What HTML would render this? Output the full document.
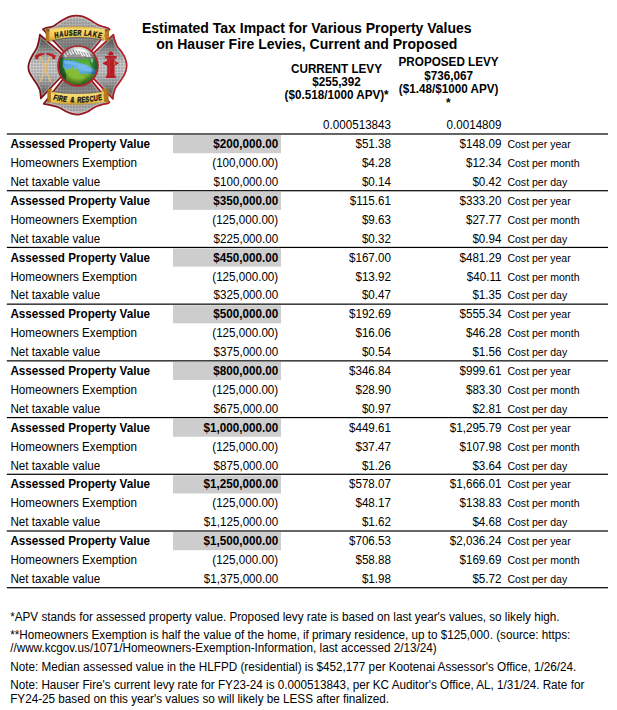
<!DOCTYPE html>
<html><head><meta charset="utf-8"><style>
html,body{margin:0;padding:0;background:#fff}
#c{position:relative;width:617px;height:710px;overflow:hidden;background:#fff;font-family:"Liberation Sans",sans-serif;color:#000}
.t{position:absolute;white-space:nowrap;font-size:11.63px;line-height:14px;transform-origin:0 11px;transform:scaleY(1.1)}
.b{font-weight:bold;font-size:11.7px}
.ti{font-weight:bold;font-size:14px;line-height:16px;transform:none}
.c{font-size:10.55px;transform-origin:0 10px}
.n{font-size:11.71px}
.ov{position:absolute;left:0;top:0}
</style></head><body><div id="c">
<svg class="ov" width="617" height="710" viewBox="0 0 617 710"><rect x="173" y="135.10" width="108" height="18.1" fill="#cdcdcd"/><rect x="173" y="191.81" width="108" height="18.1" fill="#cdcdcd"/><rect x="173" y="248.53" width="108" height="18.1" fill="#cdcdcd"/><rect x="173" y="305.24" width="108" height="18.1" fill="#cdcdcd"/><rect x="173" y="361.96" width="108" height="18.1" fill="#cdcdcd"/><rect x="173" y="418.67" width="108" height="18.1" fill="#cdcdcd"/><rect x="173" y="475.38" width="108" height="18.1" fill="#cdcdcd"/><rect x="173" y="532.10" width="108" height="18.1" fill="#cdcdcd"/><rect x="6.8" y="133.40" width="601.2" height="1.2" fill="#000"/><rect x="6.8" y="190.11" width="601.2" height="1.2" fill="#000"/><rect x="6.8" y="246.83" width="601.2" height="1.2" fill="#000"/><rect x="6.8" y="303.54" width="601.2" height="1.2" fill="#000"/><rect x="6.8" y="360.26" width="601.2" height="1.2" fill="#000"/><rect x="6.8" y="416.97" width="601.2" height="1.2" fill="#000"/><rect x="6.8" y="473.68" width="601.2" height="1.2" fill="#000"/><rect x="6.8" y="530.40" width="601.2" height="1.2" fill="#000"/><rect x="6.8" y="587.11" width="601.2" height="1.2" fill="#000"/></svg>
<svg class="ov" width="140" height="130" viewBox="0 0 140 130"><defs>
<linearGradient id="mgt" x1="0" y1="14" x2="0" y2="50" gradientUnits="userSpaceOnUse">
<stop offset="0" stop-color="#c4c4c4"/><stop offset="0.35" stop-color="#b2b2b2"/><stop offset="0.75" stop-color="#8e8e8e"/><stop offset="1" stop-color="#7e7e7e"/>
</linearGradient>
<linearGradient id="mgb" x1="0" y1="116" x2="0" y2="82" gradientUnits="userSpaceOnUse">
<stop offset="0" stop-color="#c4c4c4"/><stop offset="0.35" stop-color="#b0b0b0"/><stop offset="0.75" stop-color="#8e8e8e"/><stop offset="1" stop-color="#7e7e7e"/>
</linearGradient>
<linearGradient id="mgl" x1="0" y1="34" x2="0" y2="99" gradientUnits="userSpaceOnUse">
<stop offset="0" stop-color="#4a4a4a"/><stop offset="0.13" stop-color="#686868"/><stop offset="0.28" stop-color="#a4a4a4"/><stop offset="0.45" stop-color="#d2d2d2"/><stop offset="0.58" stop-color="#d0d0d0"/><stop offset="0.74" stop-color="#a8a8a8"/><stop offset="0.88" stop-color="#707070"/><stop offset="1" stop-color="#505050"/>
</linearGradient>
<linearGradient id="mgr" x1="0" y1="34" x2="0" y2="99" gradientUnits="userSpaceOnUse">
<stop offset="0" stop-color="#4a4a4a"/><stop offset="0.13" stop-color="#686868"/><stop offset="0.28" stop-color="#a4a4a4"/><stop offset="0.45" stop-color="#cecece"/><stop offset="0.58" stop-color="#cccccc"/><stop offset="0.74" stop-color="#a8a8a8"/><stop offset="0.88" stop-color="#707070"/><stop offset="1" stop-color="#505050"/>
</linearGradient>
<linearGradient id="rs" x1="27" y1="0" x2="128" y2="0" gradientUnits="userSpaceOnUse">
<stop offset="0" stop-color="#701014"/><stop offset="0.5" stop-color="#9c1820"/><stop offset="1" stop-color="#b81e28"/>
</linearGradient>
<pattern id="dp" x="0.5" y="0.5" width="3" height="3" patternUnits="userSpaceOnUse">
<circle cx="1.5" cy="1.5" r="0.85" fill="#404040"/>
</pattern>
<linearGradient id="gold" x1="0" y1="0" x2="0" y2="1">
<stop offset="0" stop-color="#d0a038"/><stop offset="0.2" stop-color="#f8dc70"/><stop offset="0.7" stop-color="#efc852"/><stop offset="1" stop-color="#c0902a"/>
</linearGradient>
<linearGradient id="fold" x1="0" y1="0" x2="1" y2="0">
<stop offset="0" stop-color="#a86c18"/><stop offset="1" stop-color="#c88a2c"/>
</linearGradient>
<linearGradient id="foldr" x1="1" y1="0" x2="0" y2="0">
<stop offset="0" stop-color="#a86c18"/><stop offset="1" stop-color="#c88a2c"/>
</linearGradient>
<linearGradient id="sky" x1="0" y1="0" x2="0" y2="1">
<stop offset="0" stop-color="#dfe8ee"/><stop offset="0.5" stop-color="#ffffff"/><stop offset="1" stop-color="#e4eaee"/>
</linearGradient>
<linearGradient id="grass" x1="0" y1="0" x2="0" y2="1">
<stop offset="0" stop-color="#2e9a3c"/><stop offset="0.35" stop-color="#4aa838"/><stop offset="0.6" stop-color="#80be3a"/><stop offset="1" stop-color="#4a9a2c"/>
</linearGradient>
<linearGradient id="lake" x1="0" y1="0" x2="1" y2="1">
<stop offset="0" stop-color="#3a8ed8"/><stop offset="0.5" stop-color="#6cb6ea"/><stop offset="1" stop-color="#3a90d0"/>
</linearGradient>
<radialGradient id="sky2" cx="80" cy="50" r="16" gradientUnits="userSpaceOnUse"><stop offset="0.3" stop-color="#ffffff"/><stop offset="1" stop-color="#bcd4e2"/></radialGradient>
<radialGradient id="vig" cx="77.95" cy="63.95" r="21" gradientUnits="userSpaceOnUse">
<stop offset="0.68" stop-color="#000" stop-opacity="0"/><stop offset="1" stop-color="#0a3010" stop-opacity="0.6"/>
</radialGradient>
<clipPath id="gc"><circle cx="77.95" cy="65.95" r="19.3"/></clipPath>
<path id="arcT" d="M50,38.7 Q77.5,32 105,38.7"/>
<path id="arcB" d="M51,100.1 Q77.5,105 104,100"/>
</defs><clipPath id="ca0"><path d="M77.95,65.95 L63.20,51.07 L42.88,29.22 C43.44,28.98 44.87,28.15 46.23,27.76 C47.60,27.38 49.74,27.26 51.07,26.91 C52.40,26.55 53.30,26.13 54.22,25.64 C55.13,25.15 55.79,24.51 56.57,23.96 C57.36,23.42 57.68,23.18 58.93,22.39 C60.17,21.59 62.11,20.23 64.03,19.22 C65.94,18.21 68.38,16.94 70.41,16.34 C72.44,15.75 74.21,15.65 76.21,15.65 C78.21,15.65 80.31,15.75 82.41,16.35 C84.50,16.94 86.88,18.22 88.79,19.22 C90.71,20.23 92.31,21.44 93.89,22.39 C95.48,23.35 96.83,24.27 98.31,24.95 C99.78,25.64 101.24,26.04 102.74,26.51 C104.23,26.98 106.12,27.31 107.27,27.77 C108.42,28.22 109.24,28.99 109.64,29.24 L92.06,50.42 Z"/></clipPath><path d="M77.95,65.95 L63.20,51.07 L42.88,29.22 C43.44,28.98 44.87,28.15 46.23,27.76 C47.60,27.38 49.74,27.26 51.07,26.91 C52.40,26.55 53.30,26.13 54.22,25.64 C55.13,25.15 55.79,24.51 56.57,23.96 C57.36,23.42 57.68,23.18 58.93,22.39 C60.17,21.59 62.11,20.23 64.03,19.22 C65.94,18.21 68.38,16.94 70.41,16.34 C72.44,15.75 74.21,15.65 76.21,15.65 C78.21,15.65 80.31,15.75 82.41,16.35 C84.50,16.94 86.88,18.22 88.79,19.22 C90.71,20.23 92.31,21.44 93.89,22.39 C95.48,23.35 96.83,24.27 98.31,24.95 C99.78,25.64 101.24,26.04 102.74,26.51 C104.23,26.98 106.12,27.31 107.27,27.77 C108.42,28.22 109.24,28.99 109.64,29.24 L92.06,50.42 Z" fill="url(#mgt)"/><path d="M77.95,65.95 L63.20,51.07 L42.88,29.22 C43.44,28.98 44.87,28.15 46.23,27.76 C47.60,27.38 49.74,27.26 51.07,26.91 C52.40,26.55 53.30,26.13 54.22,25.64 C55.13,25.15 55.79,24.51 56.57,23.96 C57.36,23.42 57.68,23.18 58.93,22.39 C60.17,21.59 62.11,20.23 64.03,19.22 C65.94,18.21 68.38,16.94 70.41,16.34 C72.44,15.75 74.21,15.65 76.21,15.65 C78.21,15.65 80.31,15.75 82.41,16.35 C84.50,16.94 86.88,18.22 88.79,19.22 C90.71,20.23 92.31,21.44 93.89,22.39 C95.48,23.35 96.83,24.27 98.31,24.95 C99.78,25.64 101.24,26.04 102.74,26.51 C104.23,26.98 106.12,27.31 107.27,27.77 C108.42,28.22 109.24,28.99 109.64,29.24 L92.06,50.42 Z" fill="url(#dp)" opacity="0.65"/><path d="M77.95,65.95 L63.20,51.07 L42.88,29.22 C43.44,28.98 44.87,28.15 46.23,27.76 C47.60,27.38 49.74,27.26 51.07,26.91 C52.40,26.55 53.30,26.13 54.22,25.64 C55.13,25.15 55.79,24.51 56.57,23.96 C57.36,23.42 57.68,23.18 58.93,22.39 C60.17,21.59 62.11,20.23 64.03,19.22 C65.94,18.21 68.38,16.94 70.41,16.34 C72.44,15.75 74.21,15.65 76.21,15.65 C78.21,15.65 80.31,15.75 82.41,16.35 C84.50,16.94 86.88,18.22 88.79,19.22 C90.71,20.23 92.31,21.44 93.89,22.39 C95.48,23.35 96.83,24.27 98.31,24.95 C99.78,25.64 101.24,26.04 102.74,26.51 C104.23,26.98 106.12,27.31 107.27,27.77 C108.42,28.22 109.24,28.99 109.64,29.24 L92.06,50.42 Z" fill="none" stroke="#fff" stroke-width="4.2" opacity="0.28" clip-path="url(#ca0)"/><path d="M77.95,65.95 L63.20,51.07 L42.88,29.22 C43.44,28.98 44.87,28.15 46.23,27.76 C47.60,27.38 49.74,27.26 51.07,26.91 C52.40,26.55 53.30,26.13 54.22,25.64 C55.13,25.15 55.79,24.51 56.57,23.96 C57.36,23.42 57.68,23.18 58.93,22.39 C60.17,21.59 62.11,20.23 64.03,19.22 C65.94,18.21 68.38,16.94 70.41,16.34 C72.44,15.75 74.21,15.65 76.21,15.65 C78.21,15.65 80.31,15.75 82.41,16.35 C84.50,16.94 86.88,18.22 88.79,19.22 C90.71,20.23 92.31,21.44 93.89,22.39 C95.48,23.35 96.83,24.27 98.31,24.95 C99.78,25.64 101.24,26.04 102.74,26.51 C104.23,26.98 106.12,27.31 107.27,27.77 C108.42,28.22 109.24,28.99 109.64,29.24 L92.06,50.42 Z" fill="none" stroke="url(#rs)" stroke-width="1.7" stroke-linejoin="round"/><clipPath id="ca1"><path d="M77.95,65.95 L62.49,79.73 L43.76,103.86 C44.83,104.07 48.04,104.64 50.18,105.10 C52.32,105.56 54.66,106.01 56.58,106.64 C58.50,107.27 60.10,108.09 61.69,108.90 C63.27,109.70 64.61,110.73 66.10,111.47 C67.59,112.22 69.12,112.88 70.61,113.36 C72.10,113.84 73.81,114.14 75.03,114.35 C76.26,114.57 76.75,114.77 77.98,114.65 C79.21,114.53 80.82,114.14 82.40,113.66 C83.99,113.18 85.81,112.63 87.51,111.77 C89.21,110.91 90.92,109.46 92.61,108.50 C94.29,107.55 95.92,106.73 97.61,106.04 C99.30,105.36 101.02,104.81 102.73,104.39 C104.44,103.98 106.74,103.90 107.86,103.54 C108.98,103.19 109.17,102.48 109.43,102.27 L92.13,81.35 Z"/></clipPath><path d="M77.95,65.95 L62.49,79.73 L43.76,103.86 C44.83,104.07 48.04,104.64 50.18,105.10 C52.32,105.56 54.66,106.01 56.58,106.64 C58.50,107.27 60.10,108.09 61.69,108.90 C63.27,109.70 64.61,110.73 66.10,111.47 C67.59,112.22 69.12,112.88 70.61,113.36 C72.10,113.84 73.81,114.14 75.03,114.35 C76.26,114.57 76.75,114.77 77.98,114.65 C79.21,114.53 80.82,114.14 82.40,113.66 C83.99,113.18 85.81,112.63 87.51,111.77 C89.21,110.91 90.92,109.46 92.61,108.50 C94.29,107.55 95.92,106.73 97.61,106.04 C99.30,105.36 101.02,104.81 102.73,104.39 C104.44,103.98 106.74,103.90 107.86,103.54 C108.98,103.19 109.17,102.48 109.43,102.27 L92.13,81.35 Z" fill="url(#mgb)"/><path d="M77.95,65.95 L62.49,79.73 L43.76,103.86 C44.83,104.07 48.04,104.64 50.18,105.10 C52.32,105.56 54.66,106.01 56.58,106.64 C58.50,107.27 60.10,108.09 61.69,108.90 C63.27,109.70 64.61,110.73 66.10,111.47 C67.59,112.22 69.12,112.88 70.61,113.36 C72.10,113.84 73.81,114.14 75.03,114.35 C76.26,114.57 76.75,114.77 77.98,114.65 C79.21,114.53 80.82,114.14 82.40,113.66 C83.99,113.18 85.81,112.63 87.51,111.77 C89.21,110.91 90.92,109.46 92.61,108.50 C94.29,107.55 95.92,106.73 97.61,106.04 C99.30,105.36 101.02,104.81 102.73,104.39 C104.44,103.98 106.74,103.90 107.86,103.54 C108.98,103.19 109.17,102.48 109.43,102.27 L92.13,81.35 Z" fill="url(#dp)" opacity="0.65"/><path d="M77.95,65.95 L62.49,79.73 L43.76,103.86 C44.83,104.07 48.04,104.64 50.18,105.10 C52.32,105.56 54.66,106.01 56.58,106.64 C58.50,107.27 60.10,108.09 61.69,108.90 C63.27,109.70 64.61,110.73 66.10,111.47 C67.59,112.22 69.12,112.88 70.61,113.36 C72.10,113.84 73.81,114.14 75.03,114.35 C76.26,114.57 76.75,114.77 77.98,114.65 C79.21,114.53 80.82,114.14 82.40,113.66 C83.99,113.18 85.81,112.63 87.51,111.77 C89.21,110.91 90.92,109.46 92.61,108.50 C94.29,107.55 95.92,106.73 97.61,106.04 C99.30,105.36 101.02,104.81 102.73,104.39 C104.44,103.98 106.74,103.90 107.86,103.54 C108.98,103.19 109.17,102.48 109.43,102.27 L92.13,81.35 Z" fill="none" stroke="#fff" stroke-width="4.2" opacity="0.28" clip-path="url(#ca1)"/><path d="M77.95,65.95 L62.49,79.73 L43.76,103.86 C44.83,104.07 48.04,104.64 50.18,105.10 C52.32,105.56 54.66,106.01 56.58,106.64 C58.50,107.27 60.10,108.09 61.69,108.90 C63.27,109.70 64.61,110.73 66.10,111.47 C67.59,112.22 69.12,112.88 70.61,113.36 C72.10,113.84 73.81,114.14 75.03,114.35 C76.26,114.57 76.75,114.77 77.98,114.65 C79.21,114.53 80.82,114.14 82.40,113.66 C83.99,113.18 85.81,112.63 87.51,111.77 C89.21,110.91 90.92,109.46 92.61,108.50 C94.29,107.55 95.92,106.73 97.61,106.04 C99.30,105.36 101.02,104.81 102.73,104.39 C104.44,103.98 106.74,103.90 107.86,103.54 C108.98,103.19 109.17,102.48 109.43,102.27 L92.13,81.35 Z" fill="none" stroke="url(#rs)" stroke-width="1.7" stroke-linejoin="round"/><clipPath id="ca2"><path d="M77.95,65.95 L61.10,53.23 L39.85,34.65 C39.69,35.64 39.39,38.42 38.91,40.57 C38.43,42.72 37.97,45.23 36.97,47.56 C35.97,49.88 34.09,52.36 32.92,54.51 C31.75,56.67 30.71,58.50 29.94,60.50 C29.18,62.49 28.43,64.51 28.35,66.49 C28.27,68.47 28.68,70.41 29.44,72.39 C30.20,74.37 31.66,76.38 32.92,78.37 C34.17,80.36 35.81,82.35 36.97,84.35 C38.14,86.34 39.27,88.00 39.91,90.33 C40.55,92.66 40.68,97.00 40.83,98.33 L60.21,77.77 Z"/></clipPath><path d="M77.95,65.95 L61.10,53.23 L39.85,34.65 C39.69,35.64 39.39,38.42 38.91,40.57 C38.43,42.72 37.97,45.23 36.97,47.56 C35.97,49.88 34.09,52.36 32.92,54.51 C31.75,56.67 30.71,58.50 29.94,60.50 C29.18,62.49 28.43,64.51 28.35,66.49 C28.27,68.47 28.68,70.41 29.44,72.39 C30.20,74.37 31.66,76.38 32.92,78.37 C34.17,80.36 35.81,82.35 36.97,84.35 C38.14,86.34 39.27,88.00 39.91,90.33 C40.55,92.66 40.68,97.00 40.83,98.33 L60.21,77.77 Z" fill="url(#mgl)"/><path d="M77.95,65.95 L61.10,53.23 L39.85,34.65 C39.69,35.64 39.39,38.42 38.91,40.57 C38.43,42.72 37.97,45.23 36.97,47.56 C35.97,49.88 34.09,52.36 32.92,54.51 C31.75,56.67 30.71,58.50 29.94,60.50 C29.18,62.49 28.43,64.51 28.35,66.49 C28.27,68.47 28.68,70.41 29.44,72.39 C30.20,74.37 31.66,76.38 32.92,78.37 C34.17,80.36 35.81,82.35 36.97,84.35 C38.14,86.34 39.27,88.00 39.91,90.33 C40.55,92.66 40.68,97.00 40.83,98.33 L60.21,77.77 Z" fill="url(#dp)" opacity="0.65"/><path d="M77.95,65.95 L61.10,53.23 L39.85,34.65 C39.69,35.64 39.39,38.42 38.91,40.57 C38.43,42.72 37.97,45.23 36.97,47.56 C35.97,49.88 34.09,52.36 32.92,54.51 C31.75,56.67 30.71,58.50 29.94,60.50 C29.18,62.49 28.43,64.51 28.35,66.49 C28.27,68.47 28.68,70.41 29.44,72.39 C30.20,74.37 31.66,76.38 32.92,78.37 C34.17,80.36 35.81,82.35 36.97,84.35 C38.14,86.34 39.27,88.00 39.91,90.33 C40.55,92.66 40.68,97.00 40.83,98.33 L60.21,77.77 Z" fill="none" stroke="#fff" stroke-width="4.2" opacity="0.28" clip-path="url(#ca2)"/><path d="M77.95,65.95 L61.10,53.23 L39.85,34.65 C39.69,35.64 39.39,38.42 38.91,40.57 C38.43,42.72 37.97,45.23 36.97,47.56 C35.97,49.88 34.09,52.36 32.92,54.51 C31.75,56.67 30.71,58.50 29.94,60.50 C29.18,62.49 28.43,64.51 28.35,66.49 C28.27,68.47 28.68,70.41 29.44,72.39 C30.20,74.37 31.66,76.38 32.92,78.37 C34.17,80.36 35.81,82.35 36.97,84.35 C38.14,86.34 39.27,88.00 39.91,90.33 C40.55,92.66 40.68,97.00 40.83,98.33 L60.21,77.77 Z" fill="none" stroke="url(#rs)" stroke-width="1.7" stroke-linejoin="round"/><clipPath id="ca3"><path d="M77.95,65.95 L94.24,52.48 L113.46,34.65 C113.70,35.64 114.23,38.59 114.89,40.57 C115.56,42.56 116.35,44.74 117.43,46.57 C118.52,48.40 120.15,49.75 121.39,51.56 C122.63,53.38 123.99,55.31 124.86,57.45 C125.74,59.59 126.47,62.26 126.65,64.43 C126.83,66.59 126.50,68.43 125.95,70.42 C125.41,72.42 124.46,74.42 123.37,76.41 C122.28,78.41 120.74,80.42 119.41,82.39 C118.07,84.37 116.36,86.29 115.36,88.27 C114.37,90.25 113.83,92.52 113.43,94.28 C113.03,96.04 113.05,98.07 112.97,98.83 L94.37,79.35 Z"/></clipPath><path d="M77.95,65.95 L94.24,52.48 L113.46,34.65 C113.70,35.64 114.23,38.59 114.89,40.57 C115.56,42.56 116.35,44.74 117.43,46.57 C118.52,48.40 120.15,49.75 121.39,51.56 C122.63,53.38 123.99,55.31 124.86,57.45 C125.74,59.59 126.47,62.26 126.65,64.43 C126.83,66.59 126.50,68.43 125.95,70.42 C125.41,72.42 124.46,74.42 123.37,76.41 C122.28,78.41 120.74,80.42 119.41,82.39 C118.07,84.37 116.36,86.29 115.36,88.27 C114.37,90.25 113.83,92.52 113.43,94.28 C113.03,96.04 113.05,98.07 112.97,98.83 L94.37,79.35 Z" fill="url(#mgr)"/><path d="M77.95,65.95 L94.24,52.48 L113.46,34.65 C113.70,35.64 114.23,38.59 114.89,40.57 C115.56,42.56 116.35,44.74 117.43,46.57 C118.52,48.40 120.15,49.75 121.39,51.56 C122.63,53.38 123.99,55.31 124.86,57.45 C125.74,59.59 126.47,62.26 126.65,64.43 C126.83,66.59 126.50,68.43 125.95,70.42 C125.41,72.42 124.46,74.42 123.37,76.41 C122.28,78.41 120.74,80.42 119.41,82.39 C118.07,84.37 116.36,86.29 115.36,88.27 C114.37,90.25 113.83,92.52 113.43,94.28 C113.03,96.04 113.05,98.07 112.97,98.83 L94.37,79.35 Z" fill="url(#dp)" opacity="0.65"/><path d="M77.95,65.95 L94.24,52.48 L113.46,34.65 C113.70,35.64 114.23,38.59 114.89,40.57 C115.56,42.56 116.35,44.74 117.43,46.57 C118.52,48.40 120.15,49.75 121.39,51.56 C122.63,53.38 123.99,55.31 124.86,57.45 C125.74,59.59 126.47,62.26 126.65,64.43 C126.83,66.59 126.50,68.43 125.95,70.42 C125.41,72.42 124.46,74.42 123.37,76.41 C122.28,78.41 120.74,80.42 119.41,82.39 C118.07,84.37 116.36,86.29 115.36,88.27 C114.37,90.25 113.83,92.52 113.43,94.28 C113.03,96.04 113.05,98.07 112.97,98.83 L94.37,79.35 Z" fill="none" stroke="#fff" stroke-width="4.2" opacity="0.28" clip-path="url(#ca3)"/><path d="M77.95,65.95 L94.24,52.48 L113.46,34.65 C113.70,35.64 114.23,38.59 114.89,40.57 C115.56,42.56 116.35,44.74 117.43,46.57 C118.52,48.40 120.15,49.75 121.39,51.56 C122.63,53.38 123.99,55.31 124.86,57.45 C125.74,59.59 126.47,62.26 126.65,64.43 C126.83,66.59 126.50,68.43 125.95,70.42 C125.41,72.42 124.46,74.42 123.37,76.41 C122.28,78.41 120.74,80.42 119.41,82.39 C118.07,84.37 116.36,86.29 115.36,88.27 C114.37,90.25 113.83,92.52 113.43,94.28 C113.03,96.04 113.05,98.07 112.97,98.83 L94.37,79.35 Z" fill="none" stroke="url(#rs)" stroke-width="1.7" stroke-linejoin="round"/><path d="M45.6,29.2 L50,29 L50,41 L45.8,41.6 Z" fill="url(#fold)"/><path d="M45.6,29.2 L50,29 L50,32 Z" fill="#4a4030" opacity="0.7"/><path d="M109,29.4 L104.6,29.2 L104.4,40.2 L108.8,41.6 Z" fill="url(#foldr)"/><path d="M109,29.4 L104.6,29.2 L104.6,32 Z" fill="#4a4030" opacity="0.7"/><path d="M49.5,29 Q77,23.3 105,29.2 L104.2,40 Q77,33.8 49.5,40.9 Z" fill="url(#gold)"/><path d="M49.5,40.9 Q77,33.8 104.2,40 L104.2,41 Q77,34.8 49.5,41.9 Z" fill="#3a3a3a" opacity="0.45"/><text x="0" y="0" text-anchor="middle" transform="translate(56.70,37.69) rotate(-12.38) skewX(-6) scale(0.72,1)" font-family="Liberation Sans" font-weight="bold" font-size="7.9" fill="#141414" stroke="#141414" stroke-width="0.35">H</text><text x="0" y="0" text-anchor="middle" transform="translate(61.60,36.74) rotate(-9.54) skewX(-6) scale(0.72,1)" font-family="Liberation Sans" font-weight="bold" font-size="7.9" fill="#141414" stroke="#141414" stroke-width="0.35">A</text><text x="0" y="0" text-anchor="middle" transform="translate(66.35,36.06) rotate(-6.74) skewX(-6) scale(0.72,1)" font-family="Liberation Sans" font-weight="bold" font-size="7.9" fill="#141414" stroke="#141414" stroke-width="0.35">U</text><text x="0" y="0" text-anchor="middle" transform="translate(70.75,35.65) rotate(-4.11) skewX(-6) scale(0.72,1)" font-family="Liberation Sans" font-weight="bold" font-size="7.9" fill="#141414" stroke="#141414" stroke-width="0.35">S</text><text x="0" y="0" text-anchor="middle" transform="translate(74.85,35.44) rotate(-1.65) skewX(-6) scale(0.72,1)" font-family="Liberation Sans" font-weight="bold" font-size="7.9" fill="#141414" stroke="#141414" stroke-width="0.35">E</text><text x="0" y="0" text-anchor="middle" transform="translate(79.00,35.41) rotate(0.84) skewX(-6) scale(0.72,1)" font-family="Liberation Sans" font-weight="bold" font-size="7.9" fill="#141414" stroke="#141414" stroke-width="0.35">R</text><text x="0" y="0" text-anchor="middle" transform="translate(85.40,35.72) rotate(4.68) skewX(-6) scale(0.72,1)" font-family="Liberation Sans" font-weight="bold" font-size="7.9" fill="#141414" stroke="#141414" stroke-width="0.35">L</text><text x="0" y="0" text-anchor="middle" transform="translate(89.35,36.12) rotate(7.03) skewX(-6) scale(0.72,1)" font-family="Liberation Sans" font-weight="bold" font-size="7.9" fill="#141414" stroke="#141414" stroke-width="0.35">A</text><text x="0" y="0" text-anchor="middle" transform="translate(94.35,36.87) rotate(9.97) skewX(-6) scale(0.72,1)" font-family="Liberation Sans" font-weight="bold" font-size="7.9" fill="#141414" stroke="#141414" stroke-width="0.35">K</text><text x="0" y="0" text-anchor="middle" transform="translate(99.05,37.82) rotate(12.69) skewX(-6) scale(0.72,1)" font-family="Liberation Sans" font-weight="bold" font-size="7.9" fill="#141414" stroke="#141414" stroke-width="0.35">E</text><path d="M47.4,89 L52.6,88.4 L51,91.6 L51,102.3 L47.4,103 Z" fill="url(#fold)"/><path d="M108.6,89 L100.6,88.4 L103.4,91.6 L104,102 L108.6,103 Z" fill="url(#foldr)"/><path d="M51,91.5 Q77,96.5 103.4,91.5 L104,102 Q77,107.45 51,102.3 Z" fill="url(#gold)"/><path d="M51,91.5 Q77,96.5 103.4,91.5 L103.4,90.6 Q77,95.6 51,90.6 Z" fill="#3a3a3a" opacity="0.35"/><text x="0" y="0" text-anchor="middle" transform="translate(54.45,100.07) rotate(12.02) skewX(-6) scale(0.72,1)" font-family="Liberation Sans" font-weight="bold" font-size="7.9" fill="#141414" stroke="#141414" stroke-width="0.35">F</text><text x="0" y="0" text-anchor="middle" transform="translate(57.25,100.63) rotate(10.58) skewX(-6) scale(0.72,1)" font-family="Liberation Sans" font-weight="bold" font-size="7.9" fill="#141414" stroke="#141414" stroke-width="0.35">I</text><text x="0" y="0" text-anchor="middle" transform="translate(60.25,101.15) rotate(9.03) skewX(-6) scale(0.72,1)" font-family="Liberation Sans" font-weight="bold" font-size="7.9" fill="#141414" stroke="#141414" stroke-width="0.35">R</text><text x="0" y="0" text-anchor="middle" transform="translate(64.35,101.72) rotate(6.88) skewX(-6) scale(0.72,1)" font-family="Liberation Sans" font-weight="bold" font-size="7.9" fill="#141414" stroke="#141414" stroke-width="0.35">E</text><text x="0" y="0" text-anchor="middle" transform="translate(72.10,102.37) rotate(2.77) skewX(-6) scale(0.72,1)" font-family="Liberation Sans" font-weight="bold" font-size="7.9" fill="#141414" stroke="#141414" stroke-width="0.35">&amp;</text><text x="0" y="0" text-anchor="middle" transform="translate(79.00,102.49) rotate(-0.91) skewX(-6) scale(0.72,1)" font-family="Liberation Sans" font-weight="bold" font-size="7.9" fill="#141414" stroke="#141414" stroke-width="0.35">R</text><text x="0" y="0" text-anchor="middle" transform="translate(83.15,102.34) rotate(-3.12) skewX(-6) scale(0.72,1)" font-family="Liberation Sans" font-weight="bold" font-size="7.9" fill="#141414" stroke="#141414" stroke-width="0.35">E</text><text x="0" y="0" text-anchor="middle" transform="translate(87.25,102.04) rotate(-5.30) skewX(-6) scale(0.72,1)" font-family="Liberation Sans" font-weight="bold" font-size="7.9" fill="#141414" stroke="#141414" stroke-width="0.35">S</text><text x="0" y="0" text-anchor="middle" transform="translate(91.70,101.53) rotate(-7.64) skewX(-6) scale(0.72,1)" font-family="Liberation Sans" font-weight="bold" font-size="7.9" fill="#141414" stroke="#141414" stroke-width="0.35">C</text><text x="0" y="0" text-anchor="middle" transform="translate(96.10,100.85) rotate(-9.94) skewX(-6) scale(0.72,1)" font-family="Liberation Sans" font-weight="bold" font-size="7.9" fill="#141414" stroke="#141414" stroke-width="0.35">U</text><text x="0" y="0" text-anchor="middle" transform="translate(100.25,100.05) rotate(-12.07) skewX(-6) scale(0.72,1)" font-family="Liberation Sans" font-weight="bold" font-size="7.9" fill="#141414" stroke="#141414" stroke-width="0.35">E</text><g clip-path="url(#gc)"><rect x="56" y="44" width="44" height="44" fill="url(#grass)"/><rect x="56" y="44" width="44" height="12" fill="url(#sky2)"/><path d="M56,58.6 L56,55 L60,53.6 L63,52.2 L66,50.8 L68.5,49.8 L71,50.6 L73.5,49.4 L76,50.4 L79,51.2 L82,52 L85,52.6 L88,53.2 L91,54 L95,55 L100,55.6 L100,58.6 Z" fill="#979797"/><g stroke="#fbfbfb" stroke-width="1.15" stroke-linecap="round" fill="none"><line x1="63.5" y1="52.57" x2="65.78" y2="56.37"/><line x1="66.2" y1="51.32" x2="67.88" y2="54.12"/><line x1="69" y1="50.56" x2="71.28" y2="54.36"/><line x1="71.8" y1="50.82" x2="73.48" y2="53.62"/><line x1="74.6" y1="50.44" x2="76.88" y2="54.24"/><line x1="77.4" y1="51.37" x2="79.08" y2="54.17"/><line x1="80.2" y1="52.12" x2="82.48" y2="55.92"/><line x1="83" y1="52.80" x2="84.68" y2="55.60"/><line x1="85.8" y1="53.36" x2="88.08" y2="57.16"/><line x1="88.6" y1="53.96" x2="90.28" y2="56.76"/></g><rect x="56" y="57" width="44" height="1.6" fill="#7e7e7e"/><path d="M89,58.6 L100,58.6 L100,74 L95,72.6 L92,70 L90,64 Z" fill="#2f8a3a"/><path d="M90.5,58.6 L93.5,58.6 L92.8,62.5 L91.2,62.5 Z" fill="#d8e4dc" opacity="0.6"/><path d="M56,52.5 L59.5,52.8 L62,55.5 L63.6,59.5 L63.4,65.5 L64.6,70 L66.4,75 L65,81 L60,86 L56,86 Z" fill="#2a6a2c"/><path d="M62.6,59.8 L74,60.4 L80,63 L87,65 L94,69 L98.5,71.5 L98.5,73.6 L92,74.2 L86,73.2 L81,74.2 L79,73 L77.4,67.6 L75,70.6 L72.5,66.4 L70,69.8 L66.8,69.6 L63,67.6 Z" fill="url(#lake)"/><path d="M64,60.6 L73,61.2 L79,63.8 L86,66 L92,69.6 L92,71.8 L87,71.4 L82,70.6 L79.5,68.8 L76.5,65.6 L72.6,64.6 L68,64.4 L64.4,63.4 Z" fill="#78bcec" opacity="0.8"/><path d="M66,80 L70,69.8 L72.5,66.4 L75,70.6 L77.4,67.6 L79,73 L81,74.2 L86,78 L80,84 L70,84 Z" fill="#84bc34"/><rect x="56" y="44" width="44" height="44" fill="url(#vig)"/></g><circle cx="77.95" cy="65.95" r="19.95" fill="none" stroke="#b3202a" stroke-width="1.7"/><line x1="40.2" y1="56.8" x2="50.4" y2="81.2" stroke="#e6bc6c" stroke-width="1.5" stroke-linecap="round"/><line x1="50" y1="56.8" x2="40.4" y2="81.2" stroke="#e6bc6c" stroke-width="1.5" stroke-linecap="round"/><path d="M35,55.4 Q38,53.1 44.4,53 L44.4,54.4 Q40.8,55.1 38.5,56.7 L38,59 L35.4,59 Z" fill="#c01c26"/><path d="M55.6,55.4 Q52.6,53.1 46.2,53 L46.2,54.4 Q49.8,55.1 52.1,56.7 L52.6,59 L55.2,59 Z" fill="#c01c26"/><g fill="#b81c26"><path d="M108,55.5 Q108.2,51.6 110.8,51.3 Q113.5,51.6 113.6,55.5 Z"/><rect x="105" y="56" width="11.6" height="2.6" rx="0.6"/><rect x="107.2" y="58.4" width="7.4" height="18"/><path d="M102.2,63.2 L107.4,60.6 L107.4,66 Z"/><path d="M119,63.2 L114.4,60.6 L114.4,66 Z"/><rect x="105.8" y="75.6" width="10" height="2.4" rx="0.5"/></g><rect x="109" y="59" width="1.2" height="16" fill="#d84048" opacity="0.5"/><rect x="114.4" y="61.5" width="0.8" height="3.4" fill="#e8a030"/></svg>
<div class="t ti" style="left:106.80000000000001px;width:400px;top:20px;text-align:center">Estimated Tax Impact for Various Property Values</div><div class="t ti" style="left:106.80000000000001px;width:400px;top:36px;text-align:center">on Hauser Fire Levies, Current and Proposed</div><div class="t b" style="left:136.5px;width:400px;top:62px;text-align:center">CURRENT LEVY</div><div class="t b" style="left:136.5px;width:400px;top:75px;text-align:center">$255,392</div><div class="t b" style="left:136.60000000000002px;width:400px;top:88px;text-align:center">($0.518/1000 APV)*</div><div class="t b" style="left:248.60000000000002px;width:400px;top:55px;text-align:center">PROPOSED LEVY</div><div class="t b" style="left:248.60000000000002px;width:400px;top:68.5px;text-align:center">$736,067</div><div class="t b" style="left:248.60000000000002px;width:400px;top:82px;text-align:center">($1.48/$1000 APV)</div><div class="t b" style="left:248.39999999999998px;width:400px;top:95.5px;text-align:center">*</div><div class="t " style="right:226px;top:118px;text-align:right">0.000513843</div><div class="t " style="right:115.5px;top:118px;text-align:right">0.0014809</div><div class="t b" style="left:10.4px;top:137px">Assessed Property Value</div><div class="t b" style="right:338.8px;top:137px;text-align:right">$200,000.00</div><div class="t " style="right:226px;top:137px;text-align:right">$51.38</div><div class="t " style="right:115.5px;top:137px;text-align:right">$148.09</div><div class="t c" style="left:507.4px;top:137px">Cost per year</div><div class="t " style="left:10.4px;top:156px">Homeowners Exemption</div><div class="t " style="right:338.8px;top:156px;text-align:right">(100,000.00)</div><div class="t " style="right:226px;top:156px;text-align:right">$4.28</div><div class="t " style="right:115.5px;top:156px;text-align:right">$12.34</div><div class="t c" style="left:507.4px;top:156px">Cost per month</div><div class="t " style="left:10.4px;top:175px">Net taxable value</div><div class="t " style="right:338.8px;top:175px;text-align:right">$100,000.00</div><div class="t " style="right:226px;top:175px;text-align:right">$0.14</div><div class="t " style="right:115.5px;top:175px;text-align:right">$0.42</div><div class="t c" style="left:507.4px;top:175px">Cost per day</div><div class="t b" style="left:10.4px;top:194px">Assessed Property Value</div><div class="t b" style="right:338.8px;top:194px;text-align:right">$350,000.00</div><div class="t " style="right:226px;top:194px;text-align:right">$115.61</div><div class="t " style="right:115.5px;top:194px;text-align:right">$333.20</div><div class="t c" style="left:507.4px;top:194px">Cost per year</div><div class="t " style="left:10.4px;top:213px">Homeowners Exemption</div><div class="t " style="right:338.8px;top:213px;text-align:right">(125,000.00)</div><div class="t " style="right:226px;top:213px;text-align:right">$9.63</div><div class="t " style="right:115.5px;top:213px;text-align:right">$27.77</div><div class="t c" style="left:507.4px;top:213px">Cost per month</div><div class="t " style="left:10.4px;top:232px">Net taxable value</div><div class="t " style="right:338.8px;top:232px;text-align:right">$225,000.00</div><div class="t " style="right:226px;top:232px;text-align:right">$0.32</div><div class="t " style="right:115.5px;top:232px;text-align:right">$0.94</div><div class="t c" style="left:507.4px;top:232px">Cost per day</div><div class="t b" style="left:10.4px;top:251px">Assessed Property Value</div><div class="t b" style="right:338.8px;top:251px;text-align:right">$450,000.00</div><div class="t " style="right:226px;top:251px;text-align:right">$167.00</div><div class="t " style="right:115.5px;top:251px;text-align:right">$481.29</div><div class="t c" style="left:507.4px;top:251px">Cost per year</div><div class="t " style="left:10.4px;top:270px">Homeowners Exemption</div><div class="t " style="right:338.8px;top:270px;text-align:right">(125,000.00)</div><div class="t " style="right:226px;top:270px;text-align:right">$13.92</div><div class="t " style="right:115.5px;top:270px;text-align:right">$40.11</div><div class="t c" style="left:507.4px;top:270px">Cost per month</div><div class="t " style="left:10.4px;top:288px">Net taxable value</div><div class="t " style="right:338.8px;top:288px;text-align:right">$325,000.00</div><div class="t " style="right:226px;top:288px;text-align:right">$0.47</div><div class="t " style="right:115.5px;top:288px;text-align:right">$1.35</div><div class="t c" style="left:507.4px;top:288px">Cost per day</div><div class="t b" style="left:10.4px;top:307px">Assessed Property Value</div><div class="t b" style="right:338.8px;top:307px;text-align:right">$500,000.00</div><div class="t " style="right:226px;top:307px;text-align:right">$192.69</div><div class="t " style="right:115.5px;top:307px;text-align:right">$555.34</div><div class="t c" style="left:507.4px;top:307px">Cost per year</div><div class="t " style="left:10.4px;top:326px">Homeowners Exemption</div><div class="t " style="right:338.8px;top:326px;text-align:right">(125,000.00)</div><div class="t " style="right:226px;top:326px;text-align:right">$16.06</div><div class="t " style="right:115.5px;top:326px;text-align:right">$46.28</div><div class="t c" style="left:507.4px;top:326px">Cost per month</div><div class="t " style="left:10.4px;top:345px">Net taxable value</div><div class="t " style="right:338.8px;top:345px;text-align:right">$375,000.00</div><div class="t " style="right:226px;top:345px;text-align:right">$0.54</div><div class="t " style="right:115.5px;top:345px;text-align:right">$1.56</div><div class="t c" style="left:507.4px;top:345px">Cost per day</div><div class="t b" style="left:10.4px;top:364px">Assessed Property Value</div><div class="t b" style="right:338.8px;top:364px;text-align:right">$800,000.00</div><div class="t " style="right:226px;top:364px;text-align:right">$346.84</div><div class="t " style="right:115.5px;top:364px;text-align:right">$999.61</div><div class="t c" style="left:507.4px;top:364px">Cost per year</div><div class="t " style="left:10.4px;top:383px">Homeowners Exemption</div><div class="t " style="right:338.8px;top:383px;text-align:right">(125,000.00)</div><div class="t " style="right:226px;top:383px;text-align:right">$28.90</div><div class="t " style="right:115.5px;top:383px;text-align:right">$83.30</div><div class="t c" style="left:507.4px;top:383px">Cost per month</div><div class="t " style="left:10.4px;top:402px">Net taxable value</div><div class="t " style="right:338.8px;top:402px;text-align:right">$675,000.00</div><div class="t " style="right:226px;top:402px;text-align:right">$0.97</div><div class="t " style="right:115.5px;top:402px;text-align:right">$2.81</div><div class="t c" style="left:507.4px;top:402px">Cost per day</div><div class="t b" style="left:10.4px;top:421px">Assessed Property Value</div><div class="t b" style="right:338.8px;top:421px;text-align:right">$1,000,000.00</div><div class="t " style="right:226px;top:421px;text-align:right">$449.61</div><div class="t " style="right:115.5px;top:421px;text-align:right">$1,295.79</div><div class="t c" style="left:507.4px;top:421px">Cost per year</div><div class="t " style="left:10.4px;top:440px">Homeowners Exemption</div><div class="t " style="right:338.8px;top:440px;text-align:right">(125,000.00)</div><div class="t " style="right:226px;top:440px;text-align:right">$37.47</div><div class="t " style="right:115.5px;top:440px;text-align:right">$107.98</div><div class="t c" style="left:507.4px;top:440px">Cost per month</div><div class="t " style="left:10.4px;top:459px">Net taxable value</div><div class="t " style="right:338.8px;top:459px;text-align:right">$875,000.00</div><div class="t " style="right:226px;top:459px;text-align:right">$1.26</div><div class="t " style="right:115.5px;top:459px;text-align:right">$3.64</div><div class="t c" style="left:507.4px;top:459px">Cost per day</div><div class="t b" style="left:10.4px;top:477px">Assessed Property Value</div><div class="t b" style="right:338.8px;top:477px;text-align:right">$1,250,000.00</div><div class="t " style="right:226px;top:477px;text-align:right">$578.07</div><div class="t " style="right:115.5px;top:477px;text-align:right">$1,666.01</div><div class="t c" style="left:507.4px;top:477px">Cost per year</div><div class="t " style="left:10.4px;top:496px">Homeowners Exemption</div><div class="t " style="right:338.8px;top:496px;text-align:right">(125,000.00)</div><div class="t " style="right:226px;top:496px;text-align:right">$48.17</div><div class="t " style="right:115.5px;top:496px;text-align:right">$138.83</div><div class="t c" style="left:507.4px;top:496px">Cost per month</div><div class="t " style="left:10.4px;top:515px">Net taxable value</div><div class="t " style="right:338.8px;top:515px;text-align:right">$1,125,000.00</div><div class="t " style="right:226px;top:515px;text-align:right">$1.62</div><div class="t " style="right:115.5px;top:515px;text-align:right">$4.68</div><div class="t c" style="left:507.4px;top:515px">Cost per day</div><div class="t b" style="left:10.4px;top:534px">Assessed Property Value</div><div class="t b" style="right:338.8px;top:534px;text-align:right">$1,500,000.00</div><div class="t " style="right:226px;top:534px;text-align:right">$706.53</div><div class="t " style="right:115.5px;top:534px;text-align:right">$2,036.24</div><div class="t c" style="left:507.4px;top:534px">Cost per year</div><div class="t " style="left:10.4px;top:553px">Homeowners Exemption</div><div class="t " style="right:338.8px;top:553px;text-align:right">(125,000.00)</div><div class="t " style="right:226px;top:553px;text-align:right">$58.88</div><div class="t " style="right:115.5px;top:553px;text-align:right">$169.69</div><div class="t c" style="left:507.4px;top:553px">Cost per month</div><div class="t " style="left:10.4px;top:572px">Net taxable value</div><div class="t " style="right:338.8px;top:572px;text-align:right">$1,375,000.00</div><div class="t " style="right:226px;top:572px;text-align:right">$1.98</div><div class="t " style="right:115.5px;top:572px;text-align:right">$5.72</div><div class="t c" style="left:507.4px;top:572px">Cost per day</div><div class="t n" style="left:10.2px;top:610px">*APV stands for assessed property value. Proposed levy rate is based on last year&#39;s values, so likely high.</div><div class="t n" style="left:10.2px;top:628px">**Homeowners Exemption is half the value of the home, if primary residence, up to $125,000. (source: https:</div><div class="t n" style="left:10.2px;top:641px">//www.kcgov.us/1071/Homeowners-Exemption-Information, last accessed 2/13/24)</div><div class="t n" style="left:10.2px;top:660px">Note: Median assessed value in the HLFPD (residential) is $452,177 per Kootenai Assessor&#39;s Office, 1/26/24.</div><div class="t n" style="left:10.2px;top:678px">Note: Hauser Fire&#39;s current levy rate for FY23-24 is 0.000513843, per KC Auditor&#39;s Office, AL, 1/31/24. Rate for</div><div class="t n" style="left:10.2px;top:692px">FY24-25 based on this year&#39;s values so will likely be LESS after finalized.</div>
</div></body></html>
